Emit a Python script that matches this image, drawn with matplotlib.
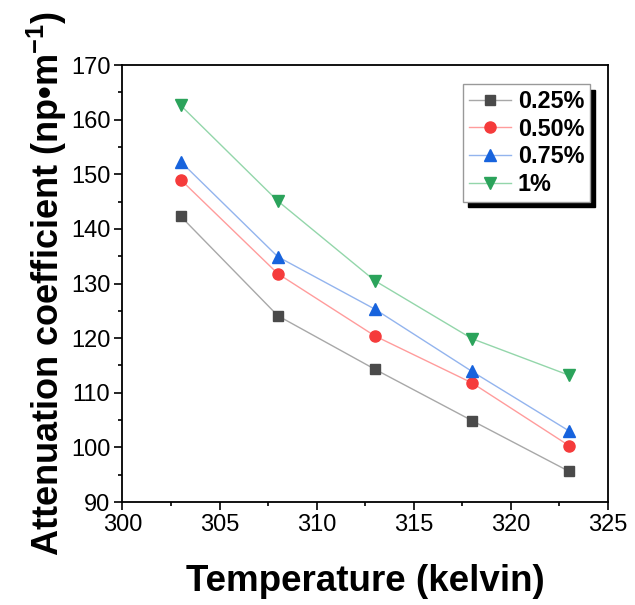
import numpy as np
import matplotlib.pyplot as plt

plt.rcParams['font.family'] = ['Liberation Sans', 'DejaVu Sans']
plt.rcParams['mathtext.fontset'] = 'custom'
plt.rcParams['mathtext.bf'] = 'Liberation Sans:bold'

temp = [303, 308, 313, 318, 323]
c025 = [142.3, 124.1, 114.3, 104.9, 95.6]
c050 = [149.0, 131.8, 120.4, 111.8, 100.3]
c075 = [152.3, 134.9, 125.3, 113.9, 103.0]
c100 = [162.6, 145.1, 130.5, 119.9, 113.2]
labels = ["0.25%", "0.50%", "0.75%", "1%"]

fig = plt.figure(figsize=(6.35, 6.05), dpi=100)
ax = fig.add_axes([0.1929, 0.1702, 0.7646, 0.7223])

ax.plot(temp, c025, color="#a8a8a8", lw=1, marker="s", ms=7, mfc="#4a4a4a", mec="#4a4a4a", label=labels[0])
ax.plot(temp, c050, color="#ff9c9c", lw=1, marker="o", ms=8, mfc="#f53b3b", mec="#f53b3b", label=labels[1])
ax.plot(temp, c075, color="#93b4ee", lw=1, marker="^", ms=9, mfc="#1763dd", mec="#1763dd", label=labels[2])
ax.plot(temp, c100, color="#93d6aa", lw=1, marker="v", ms=9, mfc="#2ba35b", mec="#2ba35b", label=labels[3])

ax.set_xlim(300, 325)
ax.set_ylim(90, 170)
ax.set_xticks(np.arange(300, 326, 5))
ax.set_yticks(np.arange(90, 171, 10))
ax.set_xticks(np.arange(302.5, 325, 5), minor=True)
ax.set_yticks(np.arange(95, 170, 10), minor=True)
ax.tick_params(which="major", direction="out", length=5.8, width=1.2, labelsize=17, pad=3)
ax.tick_params(which="minor", direction="out", length=3, width=1.2)
for s in ax.spines.values():
    s.set_linewidth(1.3)

ax.set_xlabel("Temperature (kelvin)", fontsize=26.5, fontweight="bold", labelpad=20)
ax.set_ylabel("Attenuation coefficient (np\u2022m$^{\\mathbf{-1}}$)", fontsize=26, fontweight="bold", labelpad=1)

leg = ax.legend(loc="upper right", bbox_to_anchor=(0.963, 0.9565), prop={"size": 16.8, "weight": "bold"},
                fancybox=False, edgecolor="#999999", framealpha=1, handlelength=1.8,
                borderpad=0.25, borderaxespad=0, labelspacing=0.2, handletextpad=0.3,
                shadow={"ox": 3.8, "oy": -4, "color": "black", "alpha": 1})
leg.get_frame().set_linewidth(1)

fig.savefig("out.png", dpi=100)
